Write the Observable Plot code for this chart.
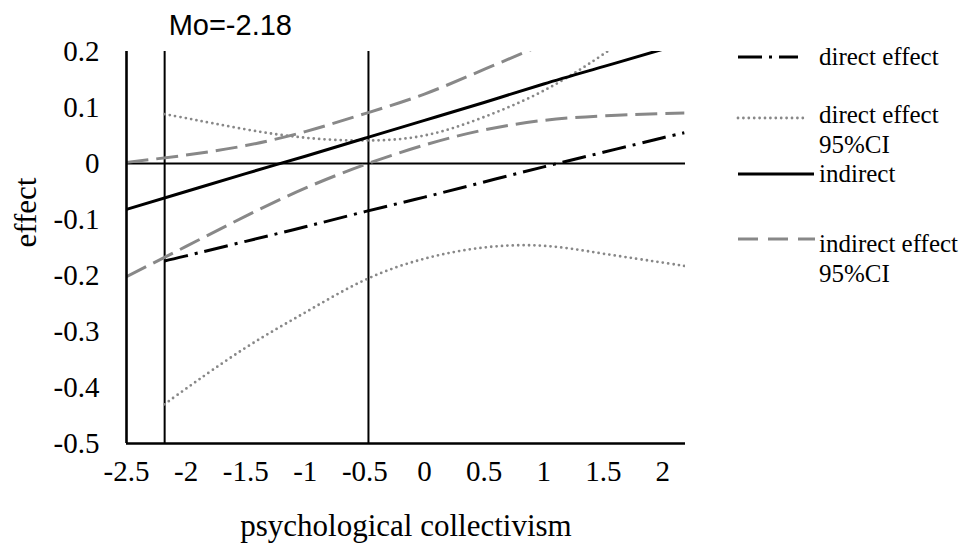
<!DOCTYPE html>
<html>
<head>
<meta charset="utf-8">
<script src="https://cdn.jsdelivr.net/npm/d3@7"></script>
<script src="https://cdn.jsdelivr.net/npm/@observablehq/plot@0.6"></script>
<style>
  html, body { margin: 0; padding: 0; background: #fff; }
  #wrap { position: relative; width: 975px; height: 544px; overflow: hidden; }
  #legend { position: absolute; left: 0; top: 0; }
</style>
</head>
<body>
<div id="wrap"></div>
<script>
// ---- data ----
const xDirect   = [-2.18, -2, -1.5, -1, -0.5, 0, 0.5, 1, 1.5, 2, 2.18];
const xIndirect = [-2.5,  -2, -1.5, -1, -0.5, 0, 0.5, 1, 1.5, 2, 2.18];

const direct     = [-0.174, -0.165, -0.139, -0.113, -0.086, -0.060, -0.033, -0.006, 0.020, 0.046, 0.055];
const directLo   = [-0.430, -0.402, -0.329, -0.266, -0.208, -0.170, -0.150, -0.147, -0.161, -0.177, -0.183];
const directHi   = [0.088, 0.081, 0.061, 0.046, 0.041, 0.050, 0.083, 0.130, 0.195, 0.270, 0.300];

const indirect   = [-0.082, -0.050, -0.018, 0.013, 0.045, 0.077, 0.109, 0.142, 0.173, 0.204, 0.215];
const indirectLo = [-0.202, -0.148, -0.094, -0.044, -0.002, 0.033, 0.060, 0.077, 0.085, 0.089, 0.090];
const indirectHi = [0.002, 0.015, 0.032, 0.057, 0.089, 0.124, 0.168, 0.213, 0.260, 0.305, 0.320];

const xTicks = [-2.5, -2, -1.5, -1, -0.5, 0, 0.5, 1, 1.5, 2];
const yTicks = [0.2, 0.1, 0, -0.1, -0.2, -0.3, -0.4, -0.5];
const refLines = [-2.18, -0.47];
const moLabel = "Mo=-2.18";
const xTitle = "psychological collectivism";
const yTitle = "effect";
const legendLabels = [["direct effect"], ["direct effect", "95%CI"], ["indirect"], ["indirect effect", "95%CI"]];

// ---- build table ----
const seriesDefs = [
  {key: "direct",     xs: xDirect,   ys: direct},
  {key: "directCI",   xs: xDirect,   ys: directLo},
  {key: "directCI2",  xs: xDirect,   ys: directHi},
  {key: "indirect",   xs: xIndirect, ys: indirect},
  {key: "indirectCI", xs: xIndirect, ys: indirectLo},
  {key: "indirectCI2",xs: xIndirect, ys: indirectHi}
];
const rows = seriesDefs.flatMap(s => s.xs.map((x, i) => ({series: s.key, x, y: s.ys[i]})));

const SERIF = '"Liberation Serif", "Times New Roman", serif';
const SANS = '"Liberation Sans", Arial, sans-serif';
const GRAY = "#888888";
const styles = {
  direct:      {stroke: "#000", strokeWidth: 3, strokeDasharray: "24,7,3,7", strokeLinecap: "butt"},
  directCI:    {stroke: GRAY, strokeWidth: 2.8, strokeDasharray: "0,5.4", strokeLinecap: "round"},
  directCI2:   {stroke: GRAY, strokeWidth: 2.8, strokeDasharray: "0,5.4", strokeLinecap: "round"},
  indirect:    {stroke: "#000", strokeWidth: 3},
  indirectCI:  {stroke: GRAY, strokeWidth: 3, strokeDasharray: "22,8", strokeLinecap: "butt"},
  indirectCI2: {stroke: GRAY, strokeWidth: 3, strokeDasharray: "22,8", strokeLinecap: "butt"}
};

const lineMarks = Object.keys(styles).map(k =>
  Plot.line(rows.filter(d => d.series === k), {x: "x", y: "y", curve: "natural", clip: true, ...styles[k]})
);

const chart = Plot.plot({
  width: 975,
  height: 544,
  marginLeft: 126,
  marginRight: 290,
  marginTop: 51,
  marginBottom: 101,
  style: {background: "#fff", color: "#000"},
  x: {domain: [-2.5, 2.19]},
  y: {domain: [-0.5, 0.2]},
  marks: [
    Plot.axisX({ticks: xTicks, tickSize: 0, tickPadding: 17, tickFormat: d => String(d), label: null, fontSize: 29}),
    Plot.axisY({ticks: yTicks, tickSize: 0, tickPadding: 27, tickFormat: d => String(d), label: null, fontSize: 29}),
    Plot.ruleY([0], {stroke: "#000", strokeWidth: 2}),
    Plot.ruleX(refLines, {stroke: "#000", strokeWidth: 2}),
    ...lineMarks,
    Plot.ruleX([-2.5], {stroke: "#000", strokeWidth: 2.6}),
    Plot.ruleY([-0.5], {stroke: "#000", strokeWidth: 2.6}),
    Plot.text([moLabel], {x: () => refLines[0], frameAnchor: "top", dy: -17, dx: 4, textAnchor: "start", lineAnchor: "bottom",
      fontSize: 29, fill: "#000"}),
    Plot.text([xTitle], {frameAnchor: "bottom", dy: 92, lineAnchor: "bottom", fontSize: 31, fill: "#000"}),
    Plot.text([yTitle], {frameAnchor: "left", dx: -91, rotate: -90, lineAnchor: "bottom", fontSize: 31, fill: "#000"})
  ]
});
// fonts: serif everywhere except the Mo label (sans, as in the reference)
chart.style.fontFamily = SERIF;
chart.querySelectorAll("g").forEach(g => g.removeAttribute("font-family"));
chart.querySelectorAll("text").forEach(t => {
  t.style.fontFamily = (t.textContent === moLabel) ? SANS : SERIF;
});
document.getElementById("wrap").appendChild(chart);

// ---- legend (to the right of the plot) ----
const ns = "http://www.w3.org/2000/svg";
const leg = document.createElementNS(ns, "svg");
leg.setAttribute("id", "legend");
leg.setAttribute("width", 975);
leg.setAttribute("height", 544);
leg.style.pointerEvents = "none";
const legendItems = [
  {style: styles.direct,     x2: 798, y: 57,  baselines: [65]},
  {style: styles.directCI,   x2: 807, y: 118, baselines: [123, 153]},
  {style: styles.indirect,   x2: 814, y: 174, baselines: [182]},
  {style: {...styles.indirectCI, strokeDasharray: "20,10"}, x2: 815, y: 239, baselines: [252, 282]}
];
legendItems.forEach((it, i) => {
  const ln = document.createElementNS(ns, "line");
  ln.setAttribute("x1", 738); ln.setAttribute("x2", it.x2);
  ln.setAttribute("y1", it.y); ln.setAttribute("y2", it.y);
  ln.setAttribute("stroke", it.style.stroke);
  ln.setAttribute("stroke-width", it.style.strokeWidth);
  if (it.style.strokeDasharray) ln.setAttribute("stroke-dasharray", it.style.strokeDasharray);
  ln.setAttribute("stroke-linecap", it.style.strokeLinecap || "butt");
  leg.appendChild(ln);
  legendLabels[i].forEach((t, j) => {
    const tx = document.createElementNS(ns, "text");
    tx.setAttribute("x", 819);
    tx.setAttribute("y", it.baselines[j]);
    tx.style.fontFamily = SERIF;
    tx.setAttribute("font-size", 25);
    tx.setAttribute("fill", "#000");
    tx.textContent = t;
    leg.appendChild(tx);
  });
});
document.getElementById("wrap").appendChild(leg);
</script>
</body>
</html>
